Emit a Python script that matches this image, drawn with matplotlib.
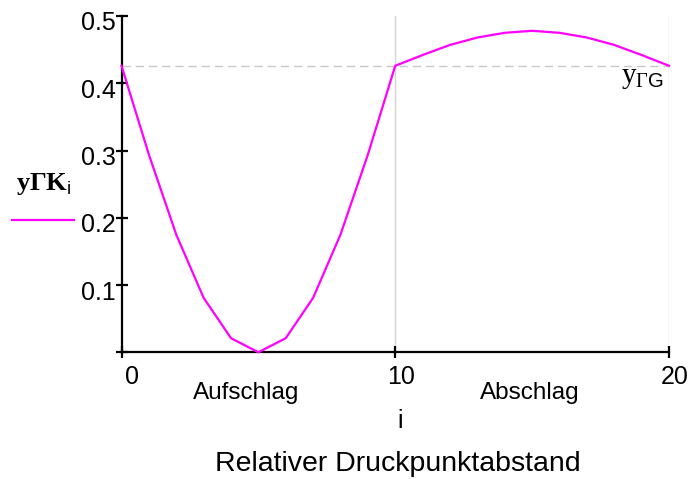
import matplotlib
matplotlib.use("Agg")
import matplotlib.pyplot as plt
from matplotlib.lines import Line2D
from matplotlib.transforms import ScaledTranslation

plt.rcParams['font.family'] = ['Liberation Sans', 'DejaVu Sans']
plt.rcParams['mathtext.fontset'] = 'custom'
plt.rcParams['mathtext.rm'] = 'Liberation Serif'
plt.rcParams['mathtext.bf'] = 'Liberation Serif:bold'
plt.rcParams['mathtext.sf'] = 'Liberation Sans'

# ---- data ----
i_vals = list(range(21))
y_gk = [0.426, 0.294, 0.175, 0.081, 0.021, 0.000, 0.021, 0.081, 0.175, 0.294,
        0.426, 0.442, 0.457, 0.468, 0.475, 0.478, 0.475, 0.468, 0.457, 0.442, 0.426]
y_gg = 0.426
x_ticks = [0, 10, 20]
x_ticklabels = ["0", "10", "20"]
y_ticks = [0, 0.1, 0.2, 0.3, 0.4, 0.5]
y_ticklabels = ["", "0.1", "0.2", "0.3", "0.4", "0.5"]
section_labels = ["Aufschlag", "Abschlag"]

W, H = 690, 479
fig = plt.figure(figsize=(W / 100, H / 100), dpi=100)

def fx(px):
    return px / W

def fy(py):
    return 1 - py / H

ax = fig.add_axes([fx(121.5), fy(352.3), fx(669) - fx(121.5), fy(16) - fy(352.3)])
ax.set_xlim(0, 20)
ax.set_ylim(0, 0.5)

# grid / reference lines
for xv in [10, 20]:
    ax.axvline(xv, color='#d4d4d4', lw=1.0, zorder=1)
ax.axhline(y_gg, color='#c8c8c8', lw=1.0, ls=(0, (6, 3.5)), zorder=1)

ax.plot(i_vals, y_gk, color='#ff00ff', lw=1.6, zorder=3, clip_on=False)

for s in ['top', 'right']:
    ax.spines[s].set_visible(False)
for s in ['left', 'bottom']:
    ax.spines[s].set_linewidth(1.6)
    ax.spines[s].set_color('black')

ax.set_xticks(x_ticks)
ax.set_xticklabels(x_ticklabels)
ax.set_yticks(y_ticks)
ax.set_yticklabels(y_ticklabels)
ax.tick_params(axis='both', direction='inout', length=9, width=1.6, color='black',
               labelsize=18)
ax.tick_params(axis='y', pad=-0.5)
ax.tick_params(axis='x', pad=5)

for lab in ax.get_yticklabels():
    lab.set_transform(lab.get_transform() + ScaledTranslation(0, -5 / 100, fig.dpi_scale_trans))
for k, lab in enumerate(ax.get_xticklabels()):
    dx = 10 if k == 0 else 6
    lab.set_transform(lab.get_transform() + ScaledTranslation(dx / 100, 0, fig.dpi_scale_trans))

# yΓG label
ax.annotate(r'$\mathrm{y}_{\mathrm{\Gamma}\mathsf{G}}$', xy=(20, y_gg), xytext=(-5, 3),
            textcoords='offset pixels', ha='right', va='top', fontsize=21)

# section labels
fig.text(fx(246), fy(399), section_labels[0], ha='center', va='baseline', fontsize=17.5)
fig.text(fx(530), fy(399), section_labels[1], ha='center', va='baseline', fontsize=17.5)
fig.text(fx(400), fy(428), "i", ha='center', va='baseline', fontsize=18)
fig.text(fx(397.5), fy(471), "Relativer Druckpunktabstand", ha='center', va='baseline',
         fontsize=20.5)

# y label and legend key
fig.text(fx(16), fy(190), r'$\mathbf{y\Gamma K}_{\mathsf{i}}$', ha='left', va='baseline',
         fontsize=19)
fig.add_artist(Line2D([fx(12), fx(74)], [fy(220), fy(220)], color='#ff00ff', lw=1.6,
                      transform=fig.transFigure))

fig.savefig("out.png", dpi=100)
